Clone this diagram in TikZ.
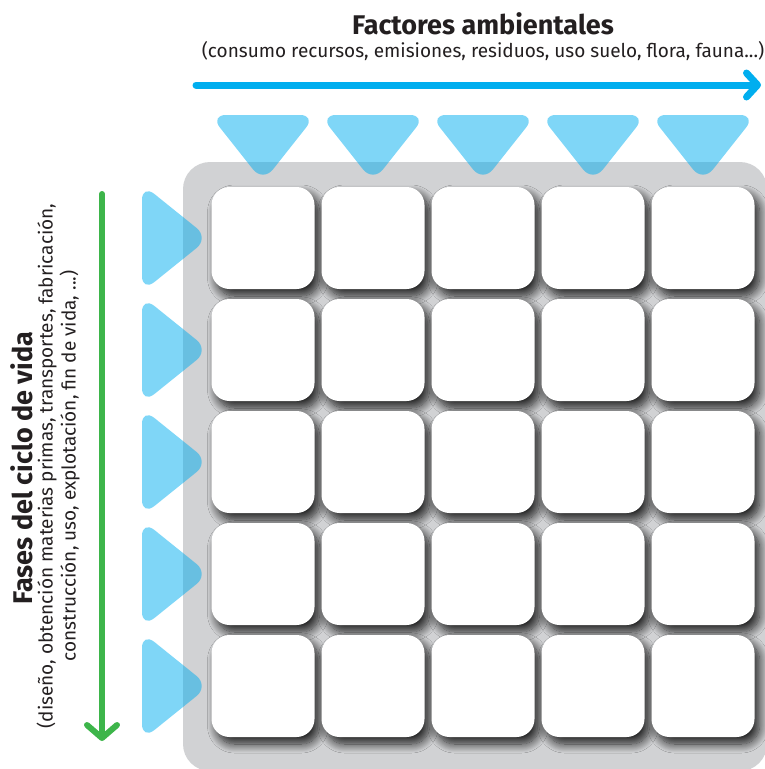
\documentclass[tikz,border=0pt]{standalone}
\usepackage{fontspec}
\setmainfont{Fira Sans}
\usepackage{tikz}
\usetikzlibrary{positioning,calc,arrows.meta,shadows.blur}

\definecolor{ecblue}{RGB}{0,174,239}
\definecolor{ecgreen}{RGB}{61,181,74}
\definecolor{panelgray}{RGB}{209,210,212}
\definecolor{txtgray}{RGB}{35,31,32}

\tikzset{
    cell/.style={fill=white, rounded corners=18pt, minimum width=103pt, minimum height=102pt,
        blur shadow={shadow xshift=5pt, shadow yshift=-7pt, shadow blur radius=9pt,
            shadow blur steps=14, shadow opacity=85, shadow scale=1}},
    tri/.style={fill=ecblue, fill opacity=.5, rounded corners=16pt},
    headtxt/.style={font=\bfseries\fontsize{27}{30}\selectfont, text=txtgray, inner sep=0pt},
    subtxt/.style={font=\fontsize{19}{23}\selectfont, text=txtgray, inner sep=0pt, align=center},
}

\begin{document}
\begin{tikzpicture}[x=1pt, y=-1pt]
    \useasboundingbox (0,0) rectangle (764,769);

    % fondo gris
    \fill [panelgray, rounded corners=27pt] (183,162) rectangle (767,771);

    % titulos
    \node [headtxt] (factores) at (483,24) {Factores ambientales};
    \node [subtxt, below=6pt of factores] (factsub) {(consumo recursos, emisiones, residuos, uso suelo, flora, fauna...)};
    \node [headtxt, rotate=90] (fases) at (22,468) {Fases del ciclo de vida};
    \node [subtxt, rotate=90] (fasessub) at (58,466) {(diseño, obtención materias primas, transportes, fabricación,\\construcción, uso, explotación, fin de vida, ...)};

    % flechas
    \coordinate (hstart) at (196,85);
    \coordinate (hend) at (761,85);
    \draw [ecblue, line width=7pt, line cap=round, -{Straight Barb[length=11pt, width=24pt, round]}] (hstart) -- (hend);
    \coordinate (vstart) at (102,194);
    \coordinate (vend) at (102,741);
    \draw [ecgreen, line width=6pt, line cap=round, -{Straight Barb[length=13pt, width=30pt, round]}] (vstart) -- (vend);

    % triangulos
    \foreach \i in {1,...,5} {
        \fill [tri] (263+110*\i-110,115) -- (263+110*\i-110+53,115) -- (263+110*\i-110,182) -- (263+110*\i-110-53,115) -- cycle;
        \fill [tri] (142,238+112*\i-112) -- (142,238+112*\i-112-54) -- (209,238+112*\i-112) -- (142,238+112*\i-112+54) -- cycle;
    }

    % matriz
    \foreach \r in {1,...,5} {
        \foreach \c in {1,...,5} {
            \node [cell] (c-\r-\c) at (263+110*\c-110,238+112*\r-112) {};
        }
    }
\end{tikzpicture}
\end{document}
